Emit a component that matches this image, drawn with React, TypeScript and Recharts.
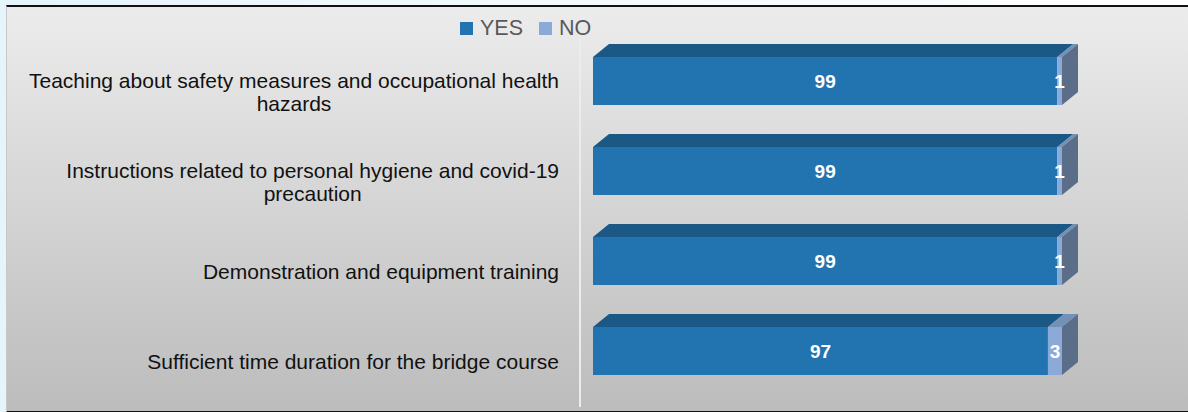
import { BarChart, Bar, XAxis, YAxis, LabelList } from 'recharts'

const categories = [
  'Teaching about safety measures and occupational health\nhazards',
  'Instructions related to personal hygiene and covid-19\nprecaution',
  'Demonstration and equipment training',
  'Sufficient time duration for the bridge course',
]
const yesValues = [99, 99, 99, 97]
const noValues = [1, 1, 1, 3]

const series = [
  { key: 'yes', name: 'YES', front: '#2174b0', top: '#1b5886', side: '#1b5886' },
  { key: 'no', name: 'NO', front: '#8caad8', top: '#7390b6', side: '#5a6d89' },
]

const data = categories.map((name, i) => ({ name, yes: yesValues[i], no: noValues[i] }))

const DX = 16
const DY = 13
const LABEL_FONT = '21px "Liberation Sans", Arial, sans-serif'

let ctx: CanvasRenderingContext2D | null = null
function textWidth(s: string) {
  if (!ctx) ctx = document.createElement('canvas').getContext('2d')
  if (!ctx) return s.length * 10
  ctx.font = LABEL_FONT
  return ctx.measureText(s).width
}

function CategoryTick(props: any) {
  const { x, y, payload } = props
  const lines: string[] = String(payload.value).split('\n')
  const w = Math.max(...lines.map(textWidth))
  const cx = x - w / 2
  const startY = y + 11 - ((lines.length - 1) * 23) / 2
  return (
    <text x={cx} y={startY} textAnchor="middle" fill="#111" style={{ font: LABEL_FONT }}>
      {lines.map((l, i) => (
        <tspan key={i} x={cx} y={startY + i * 23} dy="0.35em">
          {l}
        </tspan>
      ))}
    </text>
  )
}

function boxShape(s: typeof series[number], last: boolean) {
  return (props: any) => {
    const { x, y, width, height } = props
    if (width == null || height == null) return null
    const x2 = x + width
    return (
      <g>
        <rect x={x} y={y} width={width} height={height} fill={s.front} />
        <polygon
          points={`${x},${y} ${x + DX},${y - DY} ${x2 + DX},${y - DY} ${x2},${y}`}
          fill={s.top}
        />
        {last && (
          <polygon
            points={`${x2},${y} ${x2 + DX},${y - DY} ${x2 + DX},${y + height - DY} ${x2},${y + height}`}
            fill={s.side}
          />
        )}
      </g>
    )
  }
}

export default function App() {
  return (
    <div
      style={{
        position: 'fixed',
        left: 0,
        top: 0,
        width: 1188,
        height: 412,
        background: 'linear-gradient(to right, #e6f4fb, #ffffff)',
        overflow: 'hidden',
      }}
    >
      <div
        style={{
          position: 'absolute',
          left: 6,
          top: 5,
          width: 1182,
          height: 404,
          background: 'linear-gradient(to bottom, #ececec, #bcbcbc)',
          borderTop: '2px solid #111',
          borderBottom: '2px solid #111',
          borderLeft: '1px solid #c8c8c8',
        }}
      />
      <div
        style={{
          position: 'absolute',
          left: 579,
          top: 38,
          width: 2,
          height: 369,
          background: '#ececec',
        }}
      />
      <div
        style={{
          position: 'absolute',
          left: 460,
          top: 16,
          display: 'flex',
          alignItems: 'center',
          fontFamily: '"Liberation Sans", Arial, sans-serif',
          fontSize: 21.5,
          color: '#595959',
        }}
      >
        {series.map((s) => (
          <div key={s.key} style={{ display: 'flex', alignItems: 'center', marginRight: 16 }}>
            <span style={{ display: 'inline-block', width: 13, height: 13, background: s.front, marginRight: 7 }} />
            <span>{s.name}</span>
          </div>
        ))}
      </div>
      <div style={{ position: 'absolute', left: 0, top: 0 }}>
        <BarChart
          width={1188}
          height={412}
          data={data}
          layout="vertical"
          barSize={48}
          margin={{ top: 36, right: 126, bottom: 16, left: 0 }}
        >
          <XAxis type="number" domain={[0, 100]} hide />
          <YAxis
            type="category"
            dataKey="name"
            width={593}
            axisLine={false}
            tickLine={false}
            tickSize={0}
            tickMargin={34}
            tick={<CategoryTick />}
            interval={0}
          />
          {series.map((s, i) => (
            <Bar
              key={s.key}
              dataKey={s.key}
              name={s.name}
              stackId="a"
              fill={s.front}
              isAnimationActive={false}
              shape={boxShape(s, i === series.length - 1)}
            >
              <LabelList
                dataKey={s.key}
                position="center"
                fill="#fff"
                style={{ font: 'bold 19px "Liberation Sans", Arial, sans-serif' }}
              />
            </Bar>
          ))}
        </BarChart>
      </div>
    </div>
  )
}
